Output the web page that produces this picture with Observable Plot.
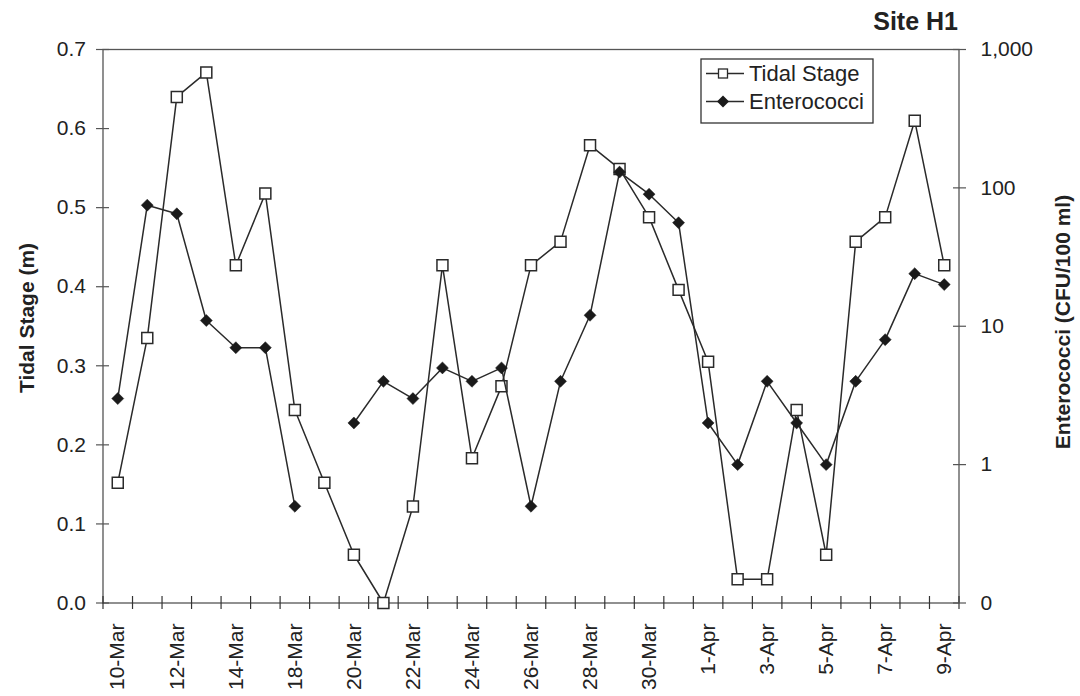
<!DOCTYPE html>
<html><head><meta charset="utf-8">
<script src="https://cdn.jsdelivr.net/npm/d3@7"></script>
<script src="https://cdn.jsdelivr.net/npm/@observablehq/plot@0.6"></script>
<style>
body{margin:0;background:#fff;}
#wrap{position:relative;width:1080px;height:696px;font-family:"Liberation Sans",Arial,sans-serif;}
#wrap > svg{position:absolute;left:0;top:0;}
</style></head><body><div id="wrap"></div>
<script>
// ---- data ----
const dates = ["10-Mar","11-Mar","12-Mar","13-Mar","14-Mar","16-Mar","18-Mar","19-Mar","20-Mar","21-Mar","22-Mar","23-Mar","24-Mar","25-Mar","26-Mar","27-Mar","28-Mar","29-Mar","30-Mar","31-Mar","1-Apr","2-Apr","3-Apr","4-Apr","5-Apr","6-Apr","7-Apr","8-Apr","9-Apr"];
const tidalStage = [0.152,0.335,0.640,0.671,0.427,0.518,0.244,0.152,0.061,0.000,0.122,0.427,0.183,0.274,0.427,0.457,0.579,0.549,0.488,0.396,0.305,0.030,0.030,0.244,0.061,0.457,0.488,0.610,0.427];
const enterococci = [3,75,65,11,7,7,0.5,null,2,4,3,5,4,5,0.5,4,12,130,90,56,2,1,4,2,1,4,8,24,20];
const leftTicks = [0,0.1,0.2,0.3,0.4,0.5,0.6,0.7];
const rightTicks = [0.1,1,10,100,1000];
const seriesNames = ["Tidal Stage","Enterococci"];
const title = "Site H1";
const leftTitle = "Tidal Stage (m)";
const rightTitle = "Enterococci (CFU/100 ml)";

// ---- build ----
const rows = dates.map((d,i)=>({i, date:d, tide:tidalStage[i], ent:enterococci[i]}));
const xBounds = d3.range(-0.5, dates.length, 1);
const xLabelIdx = dates.map((d,i)=>i).filter(i=>i%2===0);
const M = {width:1080, height:696, marginTop:49, marginBottom:93.5, marginLeft:102.5, marginRight:121.5};
const font = {fontFamily:"'Liberation Sans', Arial, sans-serif", fontSize:"21px", color:"#222", background:"transparent"};
const lineCol = "#2a2a2a";

const A = Plot.plot({
  ...M, style:font,
  x:{type:"linear", domain:[-0.5, dates.length-0.5]},
  y:{domain:[0,0.7]},
  marks:[
    Plot.frame({stroke:"#555", strokeWidth:1.3}),
    Plot.axisY({ticks:leftTicks, tickFormat:d3.format(".1f"), tickSize:13, dx:6.5, tickPadding:10.5, stroke:"#555", strokeWidth:1.2, fill:"#222", label:null}),
    Plot.axisX({ticks:xBounds, tickFormat:()=>"", tickSize:13, dy:-6.5, stroke:"#333", strokeWidth:1.2, label:null}),
    Plot.axisX({ticks:xLabelIdx, tickFormat:i=>dates[i], tickSize:0, tickPadding:20.5, tickRotate:-90, fill:"#222", label:null}),
    Plot.line(rows,{x:"i", y:"tide", stroke:lineCol, strokeWidth:1.5}),
    Plot.dot(rows,{x:"i", y:"tide", symbol:"square", r:6.2, fill:"white", stroke:lineCol, strokeWidth:1.5})
  ]
});

const B = Plot.plot({
  ...M, style:font,
  x:{type:"linear", domain:[-0.5, dates.length-0.5], axis:null},
  y:{type:"log", domain:[0.1,1000]},
  marks:[
    Plot.axisY({anchor:"right", ticks:rightTicks, tickFormat:d=>d<1?"0":d3.format(",")(d), tickSize:13, dx:-6.5, tickPadding:15, stroke:"#555", strokeWidth:1.2, fill:"#222", label:null}),
    Plot.line(rows,{x:"i", y:"ent", stroke:lineCol, strokeWidth:1.5}),
    Plot.dot(rows,{x:"i", y:"ent", symbol:"diamond2", r:5.4, fill:"#1a1a1a", stroke:"#1a1a1a", strokeWidth:0.5})
  ]
});

const wrap = document.getElementById("wrap");
wrap.appendChild(A);
wrap.appendChild(B);

// overlay: titles and legend
const ov = d3.select(wrap).append("svg").attr("width",1080).attr("height",696)
  .attr("font-family","'Liberation Sans', Arial, sans-serif").attr("fill","#222");
ov.append("text").attr("x",958).attr("y",30).attr("text-anchor","end").attr("font-weight","bold").attr("font-size",25).text(title);
ov.append("text").attr("transform","translate(34,318) rotate(-90)").attr("text-anchor","middle").attr("font-weight","bold").attr("font-size",21).text(leftTitle);
ov.append("text").attr("transform","translate(1070,322) rotate(-90)").attr("text-anchor","middle").attr("font-weight","bold").attr("font-size",21).text(rightTitle);

const lg = ov.append("g");
lg.append("rect").attr("x",701).attr("y",59).attr("width",172).attr("height",64).attr("fill","white").attr("stroke","#333").attr("stroke-width",1.3);
const rowsY = [73.5, 101.5];
seriesNames.forEach((name,k)=>{
  const y = rowsY[k];
  lg.append("line").attr("x1",706).attr("x2",744).attr("y1",y).attr("y2",y).attr("stroke",lineCol).attr("stroke-width",1.5);
  if (k===0) lg.append("rect").attr("x",718.5).attr("y",y-4.5).attr("width",9).attr("height",9).attr("fill","white").attr("stroke",lineCol).attr("stroke-width",1.3);
  else lg.append("path").attr("d",`M723,${y-6}L729,${y}L723,${y+6}L717,${y}Z`).attr("fill","#1a1a1a");
  lg.append("text").attr("x",749).attr("y",y+7.8).attr("font-size",22).text(name);
});
</script></body></html>
